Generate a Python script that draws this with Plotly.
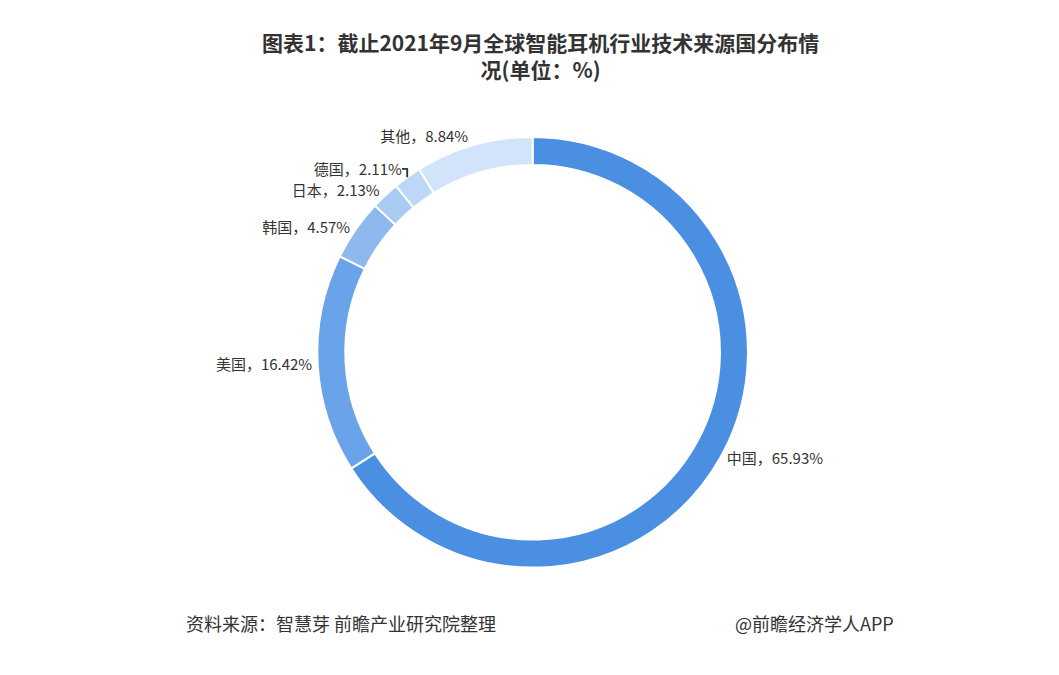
import plotly.graph_objects as go

labels = ["中国", "美国", "韩国", "日本", "德国", "其他"]
values = [65.93, 16.42, 4.57, 2.13, 2.11, 8.84]
colors = ["#4a8fe2", "#6aa3ea", "#8db9ef", "#a8caf3", "#bdd7f6", "#d2e4f9"]

fig = go.Figure()
fig.add_trace(go.Pie(
    labels=labels, values=values, hole=0.87, sort=False, direction="clockwise",
    rotation=0,
    marker=dict(colors=colors, line=dict(color="white", width=2)),
    texttemplate="%{label}，%{value:.2f}%", textposition="outside",
    textfont=dict(size=15, color="#333333", family="Noto Sans CJK SC"),
    domain=dict(x=[0.193, 0.793], y=[0.171, 0.809]),
    showlegend=False,
))

fig.update_layout(
    width=1059, height=675,
    margin=dict(l=0, r=0, t=0, b=0),
    paper_bgcolor="white",
    font=dict(family="Noto Sans CJK SC"),
    annotations=[
        dict(text="<b>图表1：截止2021年9月全球智能耳机行业技术来源国分布情<br>况(单位：%)</b>",
             x=0.5, y=0.975, yanchor="top", xref="paper", yref="paper", showarrow=False,
             font=dict(size=21, color="#333333")),
        dict(text="资料来源：智慧芽 前瞻产业研究院整理", x=0.162, y=0.067, xref="paper", yref="paper",
             xanchor="left", showarrow=False, font=dict(size=18, color="#333333")),
        dict(text="@前瞻经济学人APP", x=0.838, y=0.067, xref="paper", yref="paper",
             xanchor="right", showarrow=False, font=dict(size=18, color="#333333")),
    ],
)

fig.write_html("out.html")
